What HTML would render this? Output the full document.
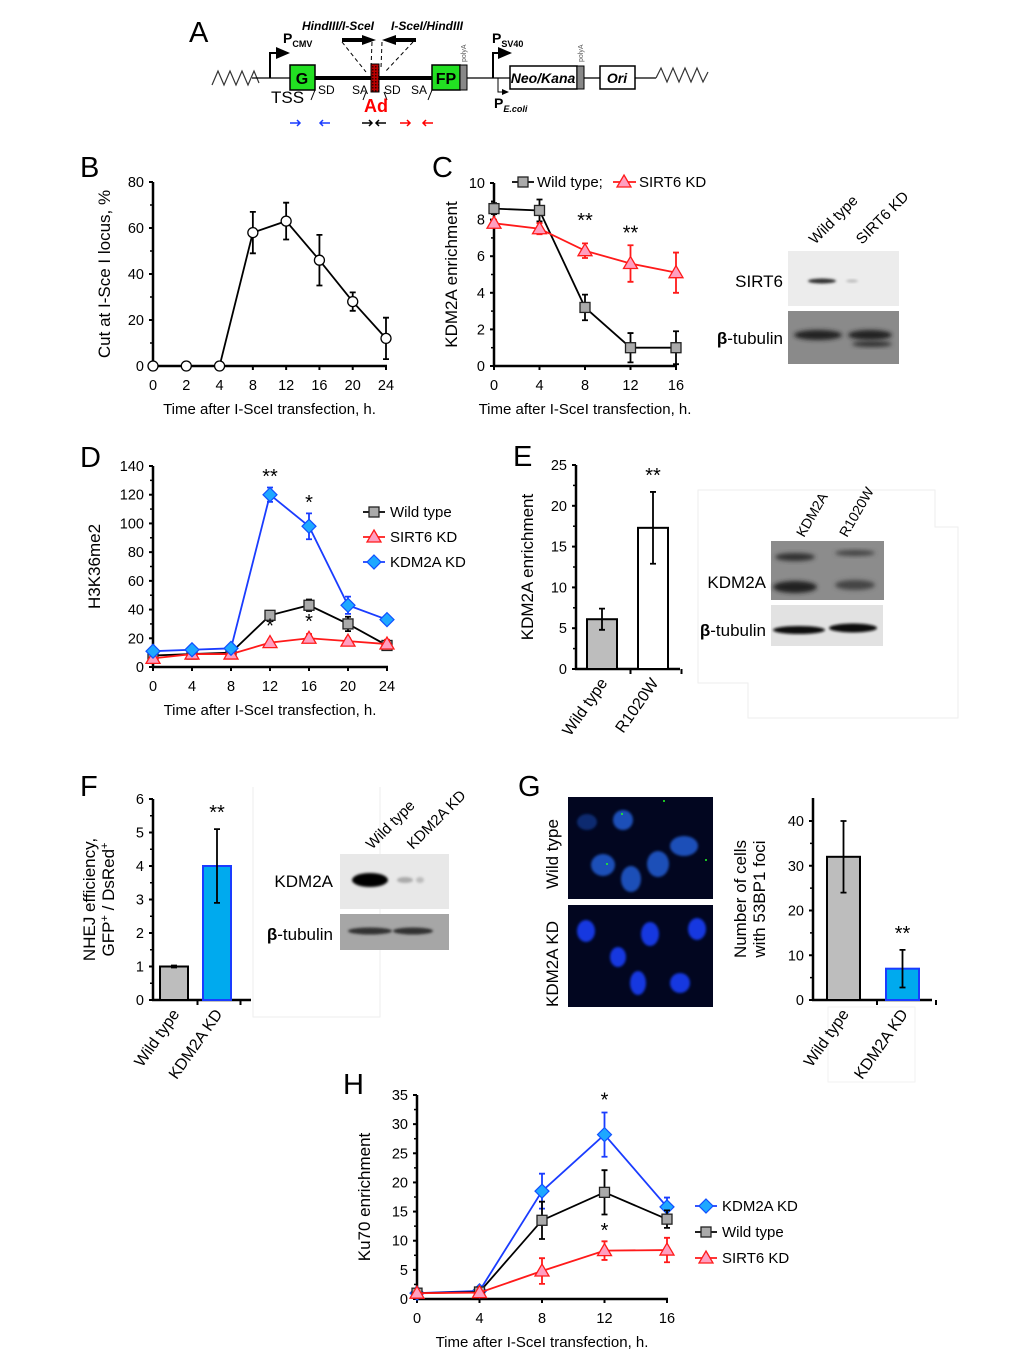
<!DOCTYPE html>
<html><head><meta charset="utf-8"><style>
html,body{margin:0;padding:0;background:#fff;}
svg{display:block;font-family:"Liberation Sans",Arial,sans-serif;}
</style></head><body>
<svg id="fig" width="1020" height="1359" viewBox="0 0 1020 1359" xmlns="http://www.w3.org/2000/svg">
<defs>
<filter id="blur1" x="-20%" y="-50%" width="140%" height="200%"><feGaussianBlur stdDeviation="2.2"/></filter>
<filter id="blur2" x="-20%" y="-50%" width="140%" height="200%"><feGaussianBlur stdDeviation="1.2"/></filter>
<pattern id="adpat" width="3" height="3" patternUnits="userSpaceOnUse"><rect width="3" height="3" fill="#b00"/><rect width="1.5" height="1.5" fill="#300"/></pattern>
<marker id="ah" markerWidth="8" markerHeight="8" refX="6" refY="3" orient="auto"><path d="M0,0 L7,3 L0,6 z" fill="#000"/></marker>
</defs>

<g font-family="Liberation Sans, Arial, sans-serif">
<text x="189" y="42" font-size="29">A</text>
<path d="M212,85 l6,-14 l6,14 l6,-14 l6,14 l6,-14 l6,14 l6,-14 l5,12" fill="none" stroke="#333" stroke-width="1.2"/>
<line x1="252" y1="78" x2="290" y2="78" stroke="#000" stroke-width="1.3"/>
<path d="M270,78 V53 H288" fill="none" stroke="#000" stroke-width="2" marker-end="url(#ah)"/>
<text x="283" y="43" font-size="14" font-weight="bold">P<tspan font-size="9" dy="4">CMV</tspan></text>
<text x="271" y="103" font-size="17">TSS</text>
<rect x="290" y="65" width="25" height="25" fill="#22e022" stroke="#000" stroke-width="1.5"/>
<text x="302" y="84" font-size="16" font-weight="bold" text-anchor="middle">G</text>
<line x1="315" y1="78" x2="432" y2="78" stroke="#000" stroke-width="4"/>
<rect x="371" y="64" width="8" height="28" fill="url(#adpat)" stroke="#000" stroke-width="1"/>
<path d="M315,90 l-4,10 M366,92 l-3,8 M384,92 l3,8 M432,90 l-4,10" stroke="#000" stroke-width="1"/>
<text x="318" y="94" font-size="12">SD</text>
<text x="352" y="94" font-size="12">SA</text>
<text x="384" y="94" font-size="12">SD</text>
<text x="411" y="94" font-size="12">SA</text>
<text x="364" y="112" font-size="18" font-weight="bold" fill="#f00">Ad</text>
<rect x="432" y="65" width="28" height="25" fill="#22e022" stroke="#000" stroke-width="1.5"/>
<rect x="460" y="65" width="7" height="25" fill="#888" stroke="#000" stroke-width="1"/>
<text x="446" y="84" font-size="16" font-weight="bold" text-anchor="middle">FP</text>
<text x="0" y="0" font-size="7" fill="#555" transform="translate(466,62) rotate(-90)">polyA</text>
<line x1="467" y1="78" x2="510" y2="78" stroke="#000" stroke-width="1.3"/>
<path d="M493,78 V53 H510" fill="none" stroke="#000" stroke-width="2" marker-end="url(#ah)"/>
<text x="492" y="43" font-size="14" font-weight="bold">P<tspan font-size="9" dy="4">SV40</tspan></text>
<path d="M498,78 V92 H508" fill="none" stroke="#000" stroke-width="1" marker-end="url(#ah)"/>
<text x="494" y="108" font-size="14" font-weight="bold">P<tspan font-size="9" dy="4" font-style="italic">E.coli</tspan></text>
<rect x="510" y="66" width="67" height="23" fill="#fff" stroke="#000" stroke-width="1.5"/>
<rect x="577" y="66" width="7" height="23" fill="#888" stroke="#000" stroke-width="1"/>
<text x="0" y="0" font-size="7" fill="#555" transform="translate(583,62) rotate(-90)">polyA</text>
<text x="543" y="83" font-size="14" font-weight="bold" font-style="italic" text-anchor="middle">Neo/Kana</text>
<line x1="584" y1="78" x2="600" y2="78" stroke="#000" stroke-width="1.3"/>
<rect x="600" y="66" width="35" height="23" fill="#fff" stroke="#000" stroke-width="1.5"/>
<text x="617" y="83" font-size="14" font-weight="bold" font-style="italic" text-anchor="middle">Ori</text>
<line x1="635" y1="78" x2="656" y2="78" stroke="#000" stroke-width="1.3"/>
<path d="M656,78 l5,-10 l6,14 l6,-14 l6,14 l6,-14 l6,14 l6,-14 l6,14 l5,-10" fill="none" stroke="#333" stroke-width="1.2"/>
<text x="338" y="30" font-size="12" font-weight="bold" font-style="italic" text-anchor="middle">HindIII/I-SceI</text>
<text x="427" y="30" font-size="12" font-weight="bold" font-style="italic" text-anchor="middle">I-SceI/HindIII</text>
<g>
<line x1="342" y1="40" x2="364" y2="40" stroke="#000" stroke-width="4"/>
<path d="M362,35 L376,40 L362,45 z" fill="#000"/>
<line x1="416" y1="40" x2="394" y2="40" stroke="#000" stroke-width="4"/>
<path d="M396,35 L382,40 L396,45 z" fill="#000"/>
</g>
<path d="M342,42 L366,72 M372,42 L371,68 M382,42 L381,68 M413,42 L385,72" stroke="#000" stroke-width="1" stroke-dasharray="4,3" fill="none"/>
<g stroke-width="1.5">
<path d="M290,123 h10 M297,120 l3,3 l-3,3" stroke="#1a3cff" fill="none"/>
<path d="M330,123 h-10 M323,120 l-3,3 l3,3" stroke="#1a3cff" fill="none"/>
<path d="M362,123 h10 M369,120 l3,3 l-3,3" stroke="#000" fill="none"/>
<path d="M386,123 h-10 M379,120 l-3,3 l3,3" stroke="#000" fill="none"/>
<path d="M400,123 h10 M407,120 l3,3 l-3,3" stroke="#f00" fill="none"/>
<path d="M433,123 h-10 M426,120 l-3,3 l3,3" stroke="#f00" fill="none"/>
</g>
</g>

<g font-size="29">
<text x="80" y="177">B</text>
<text x="432" y="177">C</text>
<text x="80" y="467">D</text>
<text x="513" y="466">E</text>
<text x="80" y="796">F</text>
<text x="518" y="796">G</text>
<text x="343" y="1094">H</text>
</g>

<g>
<text font-size="15" transform="translate(815,245) rotate(-45)">Wild type</text>
<text font-size="15" transform="translate(862,245) rotate(-45)">SIRT6 KD</text>
<text x="783" y="287" font-size="17" text-anchor="end">SIRT6</text>
<text x="783" y="344" font-size="17" text-anchor="end"><tspan font-weight="bold">β</tspan>-tubulin</text>
<rect x="788" y="251" width="111" height="55" fill="#ececec"/>
<ellipse cx="822" cy="281" rx="14" ry="2.5" fill="#333" filter="url(#blur2)"/>
<ellipse cx="852" cy="281" rx="6" ry="1.5" fill="#bbb" filter="url(#blur2)"/>
<rect x="788" y="311" width="111" height="53" fill="#8a8a8a"/>
<ellipse cx="818" cy="335" rx="24" ry="5" fill="#222" filter="url(#blur1)"/>
<ellipse cx="870" cy="335" rx="22" ry="5" fill="#222" filter="url(#blur1)"/>
<ellipse cx="872" cy="344" rx="20" ry="3" fill="#333" filter="url(#blur1)"/>
</g>
<g>
<path d="M698,490 H935 V527 H958 V718 H748 V683 H698 Z" fill="none" stroke="#eee" stroke-width="1"/>
<text font-size="14" transform="translate(804,538) rotate(-60)">KDM2A</text>
<text font-size="14" transform="translate(847,538) rotate(-60)">R1020W</text>
<text x="766" y="588" font-size="17" text-anchor="end">KDM2A</text>
<text x="766" y="636" font-size="17" text-anchor="end"><tspan font-weight="bold">β</tspan>-tubulin</text>
<rect x="771" y="541" width="113" height="59" fill="#8c8c8c"/>
<ellipse cx="795" cy="557" rx="20" ry="4" fill="#333" filter="url(#blur1)"/>
<ellipse cx="855" cy="553" rx="20" ry="3" fill="#444" filter="url(#blur1)"/>
<ellipse cx="795" cy="587" rx="22" ry="6" fill="#222" filter="url(#blur1)"/>
<ellipse cx="855" cy="585" rx="20" ry="5" fill="#444" filter="url(#blur1)"/>
<rect x="771" y="605" width="112" height="41" fill="#e2e2e2"/>
<ellipse cx="799" cy="630" rx="26" ry="4" fill="#111" filter="url(#blur2)"/>
<ellipse cx="853" cy="628" rx="24" ry="4.5" fill="#111" filter="url(#blur2)"/>
</g>
<g>
<path d="M253,787 V1017 H380 V787" fill="none" stroke="#eee" stroke-width="1"/>
<text font-size="15" transform="translate(372,850) rotate(-45)">Wild type</text>
<text font-size="15" transform="translate(413,850) rotate(-45)">KDM2A KD</text>
<text x="333" y="887" font-size="17" text-anchor="end">KDM2A</text>
<text x="333" y="940" font-size="17" text-anchor="end"><tspan font-weight="bold">β</tspan>-tubulin</text>
<rect x="340" y="854" width="109" height="55" fill="#e8e8e8"/>
<ellipse cx="370" cy="880" rx="18" ry="7" fill="#000" filter="url(#blur2)"/>
<ellipse cx="405" cy="880" rx="8" ry="3" fill="#aaa" filter="url(#blur2)"/>
<ellipse cx="420" cy="880" rx="4" ry="3" fill="#bbb" filter="url(#blur2)"/>
<rect x="340" y="914" width="109" height="36" fill="#a6a6a6"/>
<ellipse cx="370" cy="931" rx="22" ry="3.5" fill="#333" filter="url(#blur2)"/>
<ellipse cx="413" cy="931" rx="20" ry="3.5" fill="#333" filter="url(#blur2)"/>
</g>
<g>
<text font-size="17" transform="translate(558,889) rotate(-90)">Wild type</text>
<text font-size="17" transform="translate(558,1007) rotate(-90)">KDM2A KD</text>
<rect x="568" y="797" width="145" height="102" fill="#020620"/>
<g fill="#1d50b8" filter="url(#blur2)">
<ellipse cx="587" cy="822" rx="10" ry="8" fill="#0a2a70"/>
<ellipse cx="623" cy="820" rx="10" ry="10"/>
<ellipse cx="684" cy="846" rx="14" ry="10"/>
<ellipse cx="603" cy="865" rx="12" ry="11"/>
<ellipse cx="658" cy="864" rx="11" ry="13"/>
<ellipse cx="631" cy="879" rx="10" ry="13"/>
</g>
<g fill="#2f2">
<circle cx="664" cy="801" r="1"/><circle cx="622" cy="814" r="1"/><circle cx="706" cy="860" r="1"/><circle cx="607" cy="864" r="1"/>
</g>
<rect x="568" y="905" width="145" height="102" fill="#020620"/>
<g fill="#1438e0" filter="url(#blur2)">
<ellipse cx="586" cy="931" rx="9" ry="11"/>
<ellipse cx="650" cy="934" rx="9" ry="12"/>
<ellipse cx="697" cy="929" rx="9" ry="11"/>
<ellipse cx="618" cy="957" rx="8" ry="10"/>
<ellipse cx="638" cy="983" rx="8" ry="12"/>
<ellipse cx="680" cy="983" rx="10" ry="10"/>
</g>
<path d="M828,1007 H915 V1082 H828 Z" fill="none" stroke="#f2f2f2"/>
</g>

<g id="charts"></g>
</svg>

<script>
// ===== Data =====
const bCats = ["0","2","4","8","12","16","20","24"];
const bVals = [0,0,0,58,63,46,28,12];
const bErrs = [0,0,0,9,8,11,4,9];
const bTicks = [0,20,40,60,80];
const cCats = ["0","4","8","12","16"];
const cWT = [8.6,8.5,3.2,1.0,1.0];
const cWTErr = [0.3,0.6,0.7,0.8,0.9];
const cS6 = [7.8,7.5,6.3,5.6,5.1];
const cS6Err = [0.2,0.3,0.4,1.0,1.1];
const cTicks = [0,2,4,6,8,10];
const dCats = ["0","4","8","12","16","20","24"];
const dWT = [8,9,10,36,43,30,15];
const dWTErr = [2,1,1,3,4,5,3];
const dS6 = [6,9,9,17,20,18,16];
const dS6Err = [2,1,1,2,3,2,3];
const dKD = [11,12,13,120,98,43,33];
const dKDErr = [1,1,1,5,9,6,2];
const dTicks = [0,20,40,60,80,100,120,140];
const eCats = ["Wild type","R1020W"];
const eVals = [6.1,17.3];
const eErrs = [1.3,4.4];
const eTicks = [0,5,10,15,20,25];
const fCats = ["Wild type","KDM2A KD"];
const fVals = [1.0,4.0];
const fErrs = [0.03,1.1];
const fTicks = [0,1,2,3,4,5,6];
const gCats = ["Wild type","KDM2A KD"];
const gVals = [32,7];
const gErrs = [8,4.2];
const gTicks = [0,10,20,30,40];
const hCats = ["0","4","8","12","16"];
const hKD = [1,1.4,18.5,28.2,15.8];
const hKDErr = [0.3,0.3,3,3.8,1.6];
const hWT = [1,1.2,13.5,18.3,13.7];
const hWTErr = [0.3,0.3,3.2,3.8,1.5];
const hS6 = [1,1.1,4.8,8.3,8.4];
const hS6Err = [0.3,0.3,2.2,1.6,2.1];
const hTicks = [0,5,10,15,20,25,30,35];

const NS = "http://www.w3.org/2000/svg";
const root = document.getElementById("charts");
function mk(parent, tag, attrs, txt){
  const el = document.createElementNS(NS, tag);
  for (const k in attrs) el.setAttribute(k, attrs[k]);
  if (txt !== undefined) el.textContent = txt;
  parent.appendChild(el);
  return el;
}
const BLK="#000", RED="#ff1a1a", BLUE="#1a3cff";
const STY = {
  wt:{color:BLK, marker:"square"},
  s6:{color:RED, marker:"tri"},
  kd:{color:BLUE, marker:"diamond"},
  open:{color:BLK, marker:"circle"}
};
function marker(g, type, x, y){
  let el;
  if (type==="square") el = mk(g,"rect",{x:x-5,y:y-5,width:10,height:10,fill:"#aaa",stroke:"#222","stroke-width":1.3});
  else if (type==="tri") el = mk(g,"path",{d:`M${x},${y-7} L${x+7},${y+5} L${x-7},${y+5} Z`,fill:"#ff9fc0",stroke:RED,"stroke-width":1.3});
  else if (type==="diamond") el = mk(g,"path",{d:`M${x},${y-7} L${x+7},${y} L${x},${y+7} L${x-7},${y} Z`,fill:"#1ea8ff",stroke:"#1050ff","stroke-width":1.2});
  else el = mk(g,"circle",{cx:x,cy:y,r:5,fill:"#fff",stroke:"#000","stroke-width":1.3});
  
  
  return el;
}
function yAxis(g, ax, yScale, ticks, top, title, titleX, midY){
  const l = mk(g,"line",{x1:ax,y1:yScale(0)+1,x2:ax,y2:top,stroke:"#000","stroke-width":2.5});
  
  
  ticks.forEach((t,i)=>{
    const y = yScale(t);
    mk(g,"line",{x1:ax-4,y1:y,x2:ax,y2:y,stroke:"#000","stroke-width":2});
    if (i<ticks.length-1){ const ym=(y+yScale(ticks[i+1]))/2; mk(g,"line",{x1:ax-3,y1:ym,x2:ax,y2:ym,stroke:"#000","stroke-width":1.5}); }
    const tl = mk(g,"text",{x:ax-9,y:y+5,"font-size":14.5,"text-anchor":"end"}, String(t));
    
    
  });
  if (title){
    const tt = mk(g,"text",{"font-size":17,"text-anchor":"middle",transform:`translate(${titleX},${midY}) rotate(-90)`});
    
    
    title.forEach((line,i)=>{ const ts=mk(tt,"tspan",{x:0,dy:i===0?0:19}); ts.innerHTML=line; });
  }
}
function lineChart(o){
  const g = mk(root,"g",{});
  
  
  const n = o.cats.length;
  const xS = i => o.x0 + (o.x1-o.x0)*i/(n-1);
  const yS = v => o.y0 - (o.y0-o.yTop)*v/o.ymax;
  yAxis(g, o.x0, yS, o.ticks, yS(o.ymax), o.title, o.titleX, (o.y0+yS(o.ymax))/2);
  const xa = mk(g,"line",{x1:o.x0-1,y1:o.y0,x2:xS(n-1)+1,y2:o.y0,stroke:"#000","stroke-width":2.5});
  
  
  o.cats.forEach((c,i)=>{
    mk(g,"line",{x1:xS(i),y1:o.y0,x2:xS(i),y2:o.y0+4,stroke:"#000","stroke-width":2});
    const t = mk(g,"text",{x:xS(i),y:o.y0+24,"font-size":14.5,"text-anchor":"middle"},c);
    
    
  });
  const xt = mk(g,"text",{x:(o.x0+xS(n-1))/2,y:o.y0+48,"font-size":15,"text-anchor":"middle"},"Time after I-SceI transfection, h.");
  
  
  o.series.forEach(s=>{
    const sg = mk(g,"g",{});
    
    
    const pts = s.vals.map((v,i)=>`${xS(i)},${yS(v)}`).join(" ");
    const pl = mk(sg,"polyline",{points:pts,fill:"none",stroke:s.sty.color,"stroke-width":1.8});
    
    
    s.vals.forEach((v,i)=>{
      const e = s.errs[i];
      if (e>0.5*o.ymax/100){
        const eb = mk(sg,"path",{d:`M${xS(i)},${yS(v-e)} V${yS(v+e)} M${xS(i)-3},${yS(v+e)} h6 M${xS(i)-3},${yS(v-e)} h6`,stroke:s.sty.color,"stroke-width":1.8,fill:"none"});
        
        
      }
    });
    s.vals.forEach((v,i)=>marker(sg, s.sty.marker, xS(i), yS(v)));
  });
  (o.stars||[]).forEach(st=>{
    const t = mk(g,"text",{x:xS(st.i),y:yS(st.v),"font-size":20,"text-anchor":"middle"},st.s);
    
    
  });
  (o.legend||[]).forEach((L,k)=>{
    const y = o.legY + k*o.legDy;
    const lg = mk(g,"g",{});
    
    
    mk(lg,"line",{x1:o.legX,y1:y,x2:o.legX+22,y2:y,stroke:L.sty.color,"stroke-width":1.8});
    marker(lg, L.sty.marker, o.legX+11, y);
    mk(lg,"text",{x:o.legX+27,y:y+5,"font-size":15},L.label);
  });
}
function barChart(o){
  const g = mk(root,"g",{});
  
  
  const yS = v => o.y0 - (o.y0-o.yTop)*v/o.ymax;
  yAxis(g, o.x0, yS, o.ticks, o.axTop, o.title, o.titleX, (o.y0+o.axTop)/2);
  const xa = mk(g,"line",{x1:o.x0-1,y1:o.y0,x2:o.xEnd,y2:o.y0,stroke:"#000","stroke-width":2.5});
  
  
  o.cats.forEach((c,i)=>{
    const bx = o.x0 + o.gap + i*o.step;
    const r = mk(g,"rect",{x:bx,y:yS(o.vals[i]),width:o.bw,height:o.y0-yS(o.vals[i]),fill:o.fills[i],stroke:o.strokes[i],"stroke-width":2});
    
    
    const cx = bx+o.bw/2, v=o.vals[i], e=o.errs[i];
    const eb = mk(g,"path",{d:`M${cx},${yS(v-e)} V${yS(v+e)} M${cx-3},${yS(v+e)} h6 M${cx-3},${yS(v-e)} h6`,stroke:"#000","stroke-width":1.8,fill:"none"});
    
    
    mk(g,"line",{x1:o.x0+(i+1)*o.step+o.gap/2-2,y1:o.y0,x2:o.x0+(i+1)*o.step+o.gap/2-2,y2:o.y0+5,stroke:"#000","stroke-width":2});
    const t = mk(g,"text",{"font-size":16,"text-anchor":"end",transform:`translate(${cx+6},${o.y0+14}) rotate(-55)`},c);
    
    
    if (o.star===i){
      const s = mk(g,"text",{x:cx,y:yS(v+e)-10,"font-size":20,"text-anchor":"middle"},"**");
      
      
    }
  });
}

lineChart({name:"chart-b", cats:bCats, x0:153, x1:386, y0:366, yTop:182, ymax:80, ticks:bTicks,
  title:["Cut at  I-Sce I locus, %"], titleX:110,
  series:[{name:"series-cut", vals:bVals, errs:bErrs, sty:STY.open}]});

lineChart({name:"chart-c", cats:cCats, x0:494, x1:676, y0:366, yTop:183, ymax:10, ticks:cTicks,
  title:["KDM2A enrichment"], titleX:457,
  series:[{name:"series-wild-type", vals:cWT, errs:cWTErr, sty:STY.wt},{name:"series-sirt6-kd", vals:cS6, errs:cS6Err, sty:STY.s6}],
  stars:[{i:2,v:7.6,s:"**"},{i:3,v:6.9,s:"**"}]});
(function(){
  const lg = mk(root,"g",{});
  
  
  mk(lg,"line",{x1:512,y1:182,x2:534,y2:182,stroke:BLK,"stroke-width":1.8});
  marker(lg,"square",523,182);
  mk(lg,"text",{x:537,y:187,"font-size":15},"Wild type;");
  mk(lg,"line",{x1:613,y1:182,x2:636,y2:182,stroke:RED,"stroke-width":1.8});
  marker(lg,"tri",624,182);
  mk(lg,"text",{x:639,y:187,"font-size":15},"SIRT6 KD");
})();

lineChart({name:"chart-d", cats:dCats, x0:153, x1:387, y0:667, yTop:466, ymax:140, ticks:dTicks,
  title:["H3K36me2"], titleX:100,
  series:[{name:"series-wild-type", vals:dWT, errs:dWTErr, sty:STY.wt},{name:"series-sirt6-kd", vals:dS6, errs:dS6Err, sty:STY.s6},{name:"series-kdm2a-kd", vals:dKD, errs:dKDErr, sty:STY.kd}],
  stars:[{i:3,v:128,s:"**"},{i:4,v:110,s:"*"},{i:3,v:24,s:"*"},{i:4,v:27,s:"*"}],
  legend:[{label:"Wild type",sty:STY.wt},{label:"SIRT6 KD",sty:STY.s6},{label:"KDM2A KD",sty:STY.kd}], legX:363, legY:512, legDy:25});

barChart({name:"chart-e", cats:eCats, vals:eVals, errs:eErrs, x0:576, y0:669, yTop:465, ymax:25, axTop:465, ticks:eTicks,
  gap:11, step:51, bw:30, xEnd:680, fills:["#bdbdbd","#fff"], strokes:["#000","#000"], star:1,
  title:["KDM2A enrichment"], titleX:533});

barChart({name:"chart-f", cats:fCats, vals:fVals, errs:fErrs, x0:153, y0:1000, yTop:799, ymax:6, axTop:799, ticks:fTicks,
  gap:7, step:43, bw:28, xEnd:251, fills:["#bdbdbd","#00aaee"], strokes:["#000","#1a3cff"], star:1,
  title:["NHEJ efficiency,","GFP<tspan font-size='11' dy='-6'>+</tspan><tspan dy='6'> / DsRed</tspan><tspan font-size='11' dy='-6'>+</tspan>"], titleX:95});

barChart({name:"chart-g", cats:gCats, vals:gVals, errs:gErrs, x0:813, y0:1000, yTop:821, ymax:40, axTop:798, ticks:gTicks,
  gap:14, step:59, bw:33, xEnd:932, fills:["#bdbdbd","#00aaee"], strokes:["#000","#1a3cff"], star:1,
  title:["Number of cells","with 53BP1 foci"], titleX:746});

lineChart({name:"chart-h", cats:hCats, x0:417, x1:667, y0:1299, yTop:1095, ymax:35, ticks:hTicks,
  title:["Ku70 enrichment"], titleX:370,
  series:[{name:"series-kdm2a-kd", vals:hKD, errs:hKDErr, sty:STY.kd},{name:"series-wild-type", vals:hWT, errs:hWTErr, sty:STY.wt},{name:"series-sirt6-kd", vals:hS6, errs:hS6Err, sty:STY.s6}],
  stars:[{i:3,v:33,s:"*"},{i:3,v:10.6,s:"*"}],
  legend:[{label:"KDM2A KD",sty:STY.kd},{label:"Wild type",sty:STY.wt},{label:"SIRT6 KD",sty:STY.s6}], legX:695, legY:1206, legDy:26});
</script>
</body></html>
